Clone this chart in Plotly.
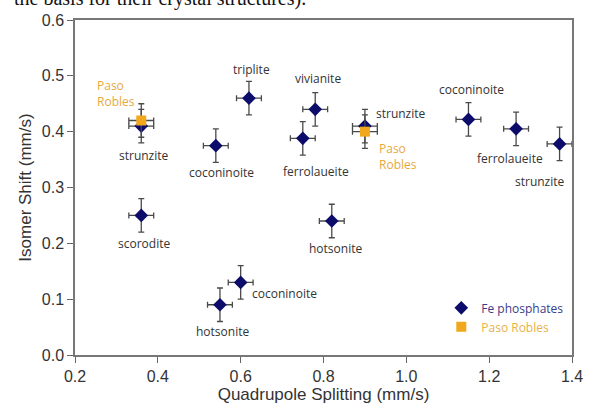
import plotly.graph_objects as go

# ---- data ----
fe_names = ["strunzite", "triplite", "coconinoite", "ferrolaueite", "vivianite",
            "strunzite", "coconinoite", "ferrolaueite", "strunzite",
            "scorodite", "coconinoite", "hotsonite", "hotsonite"]
fe_qs = [0.36, 0.62, 0.54, 0.75, 0.78, 0.90, 1.15, 1.265, 1.37, 0.36, 0.60, 0.55, 0.82]
fe_is = [0.41, 0.46, 0.375, 0.388, 0.44, 0.41, 0.422, 0.405, 0.378, 0.25, 0.13, 0.09, 0.24]
fe_qs_err = [0.03] * 13
fe_is_err = [0.03] * 13

pr_names = ["Paso<br>Robles", "Paso<br>Robles"]
pr_qs = [0.36, 0.90]
pr_is = [0.42, 0.40]
pr_qs_err = [0.03, 0.03]
pr_is_err = [0.03, 0.03]

x_ticks = [0.2, 0.4, 0.6, 0.8, 1.0, 1.2, 1.4]
y_ticks = [0.0, 0.1, 0.2, 0.3, 0.4, 0.5, 0.6]

# ---- label offsets (pixels: dx, dy up, anchor) ----
fe_label_off = [(3, -29, "center"), (3, 29, "center"), (6, -27, "center"), (13, -33, "center"),
                (3, 31, "center"), (9, 13, "left"), (3, 30, "center"), (-6, -30, "center"),
                (-20, -38, "center"), (3, -28, "center"), (9, -11, "left"), (3, -27, "center"),
                (4, -27, "center")]
pr_label_off = [(-46, 27, "left"), (12, -25, "left")]

NAVY = "#0c0c6a"
ORANGE = "#f2a81d"
ERR = "#4a4a4a"
LABEL_FONT = dict(family="Open Sans", size=12, color="#333333")

fig = go.Figure()
fig.add_trace(go.Scatter(
    x=fe_qs, y=fe_is, mode="markers",
    name='<span style="color:#3b3b8a">Fe phosphates</span>',
    marker=dict(symbol="diamond", size=10.5, color=NAVY),
    error_x=dict(type="data", array=fe_qs_err, color=ERR, thickness=1.3, width=3),
    error_y=dict(type="data", array=fe_is_err, color=ERR, thickness=1.3, width=3),
))
fig.add_trace(go.Scatter(
    x=pr_qs, y=pr_is, mode="markers",
    name='<span style="color:#e9b246">Paso Robles</span>',
    marker=dict(symbol="square", size=10, color=ORANGE),
    error_x=dict(type="data", array=pr_qs_err, color=ERR, thickness=1.3, width=3),
    error_y=dict(type="data", array=pr_is_err, color=ERR, thickness=1.3, width=3),
))

for name, xv, yv, (dx, dy, anc) in zip(fe_names, fe_qs, fe_is, fe_label_off):
    fig.add_annotation(x=xv, y=yv, text=name, showarrow=False, xshift=dx, yshift=dy,
                       xanchor=anc, yanchor="middle", font=LABEL_FONT)
for name, xv, yv, (dx, dy, anc) in zip(pr_names, pr_qs, pr_is, pr_label_off):
    fig.add_annotation(x=xv, y=yv, text=name, showarrow=False, xshift=dx, yshift=dy,
                       xanchor=anc, yanchor="middle", align="left",
                       font=dict(family="Open Sans", size=12, color="#e9a93c"))

# cut-off page text at the top
fig.add_annotation(xref="paper", yref="paper", x=-0.126, y=1.063, xanchor="left",
                   yanchor="middle", showarrow=False,
                   text="the basis for their crystal structures).",
                   font=dict(family="Liberation Serif", size=20, color="#111111"))

axis_common = dict(showline=True, linecolor="#777777", linewidth=1.5, mirror=True,
                   ticks="outside", ticklen=6, tickcolor="#666666", tickwidth=1.2,
                   showgrid=False, zeroline=False,
                   tickfont=dict(family="Liberation Sans", size=16, color="#333333"))

fig.update_layout(
    width=595, height=411,
    margin=dict(l=75, r=15, t=15, b=53),
    paper_bgcolor="white", plot_bgcolor="white",
    showlegend=True,
    legend=dict(x=0.737, y=0.184, xanchor="left", yanchor="top",
                font=dict(family="Open Sans", size=12), itemwidth=30,
                bgcolor="rgba(0,0,0,0)"),
    xaxis=dict(range=[0.2, 1.4], tickvals=x_ticks, tickformat=".1f",
               title=dict(text="Quadrupole Splitting (mm/s)", standoff=2,
                          font=dict(family="Liberation Sans", size=17, color="#333333")),
               **axis_common),
    yaxis=dict(range=[0.0, 0.6], tickvals=y_ticks, tickformat=".1f",
               title=dict(text="Isomer Shift (mm/s)", standoff=6,
                          font=dict(family="Liberation Sans", size=17, color="#333333")),
               **axis_common),
)

fig.write_html("out.html", config={"displayModeBar": False},
               post_script="document.body.style.margin='0';document.body.style.overflow='hidden';")
